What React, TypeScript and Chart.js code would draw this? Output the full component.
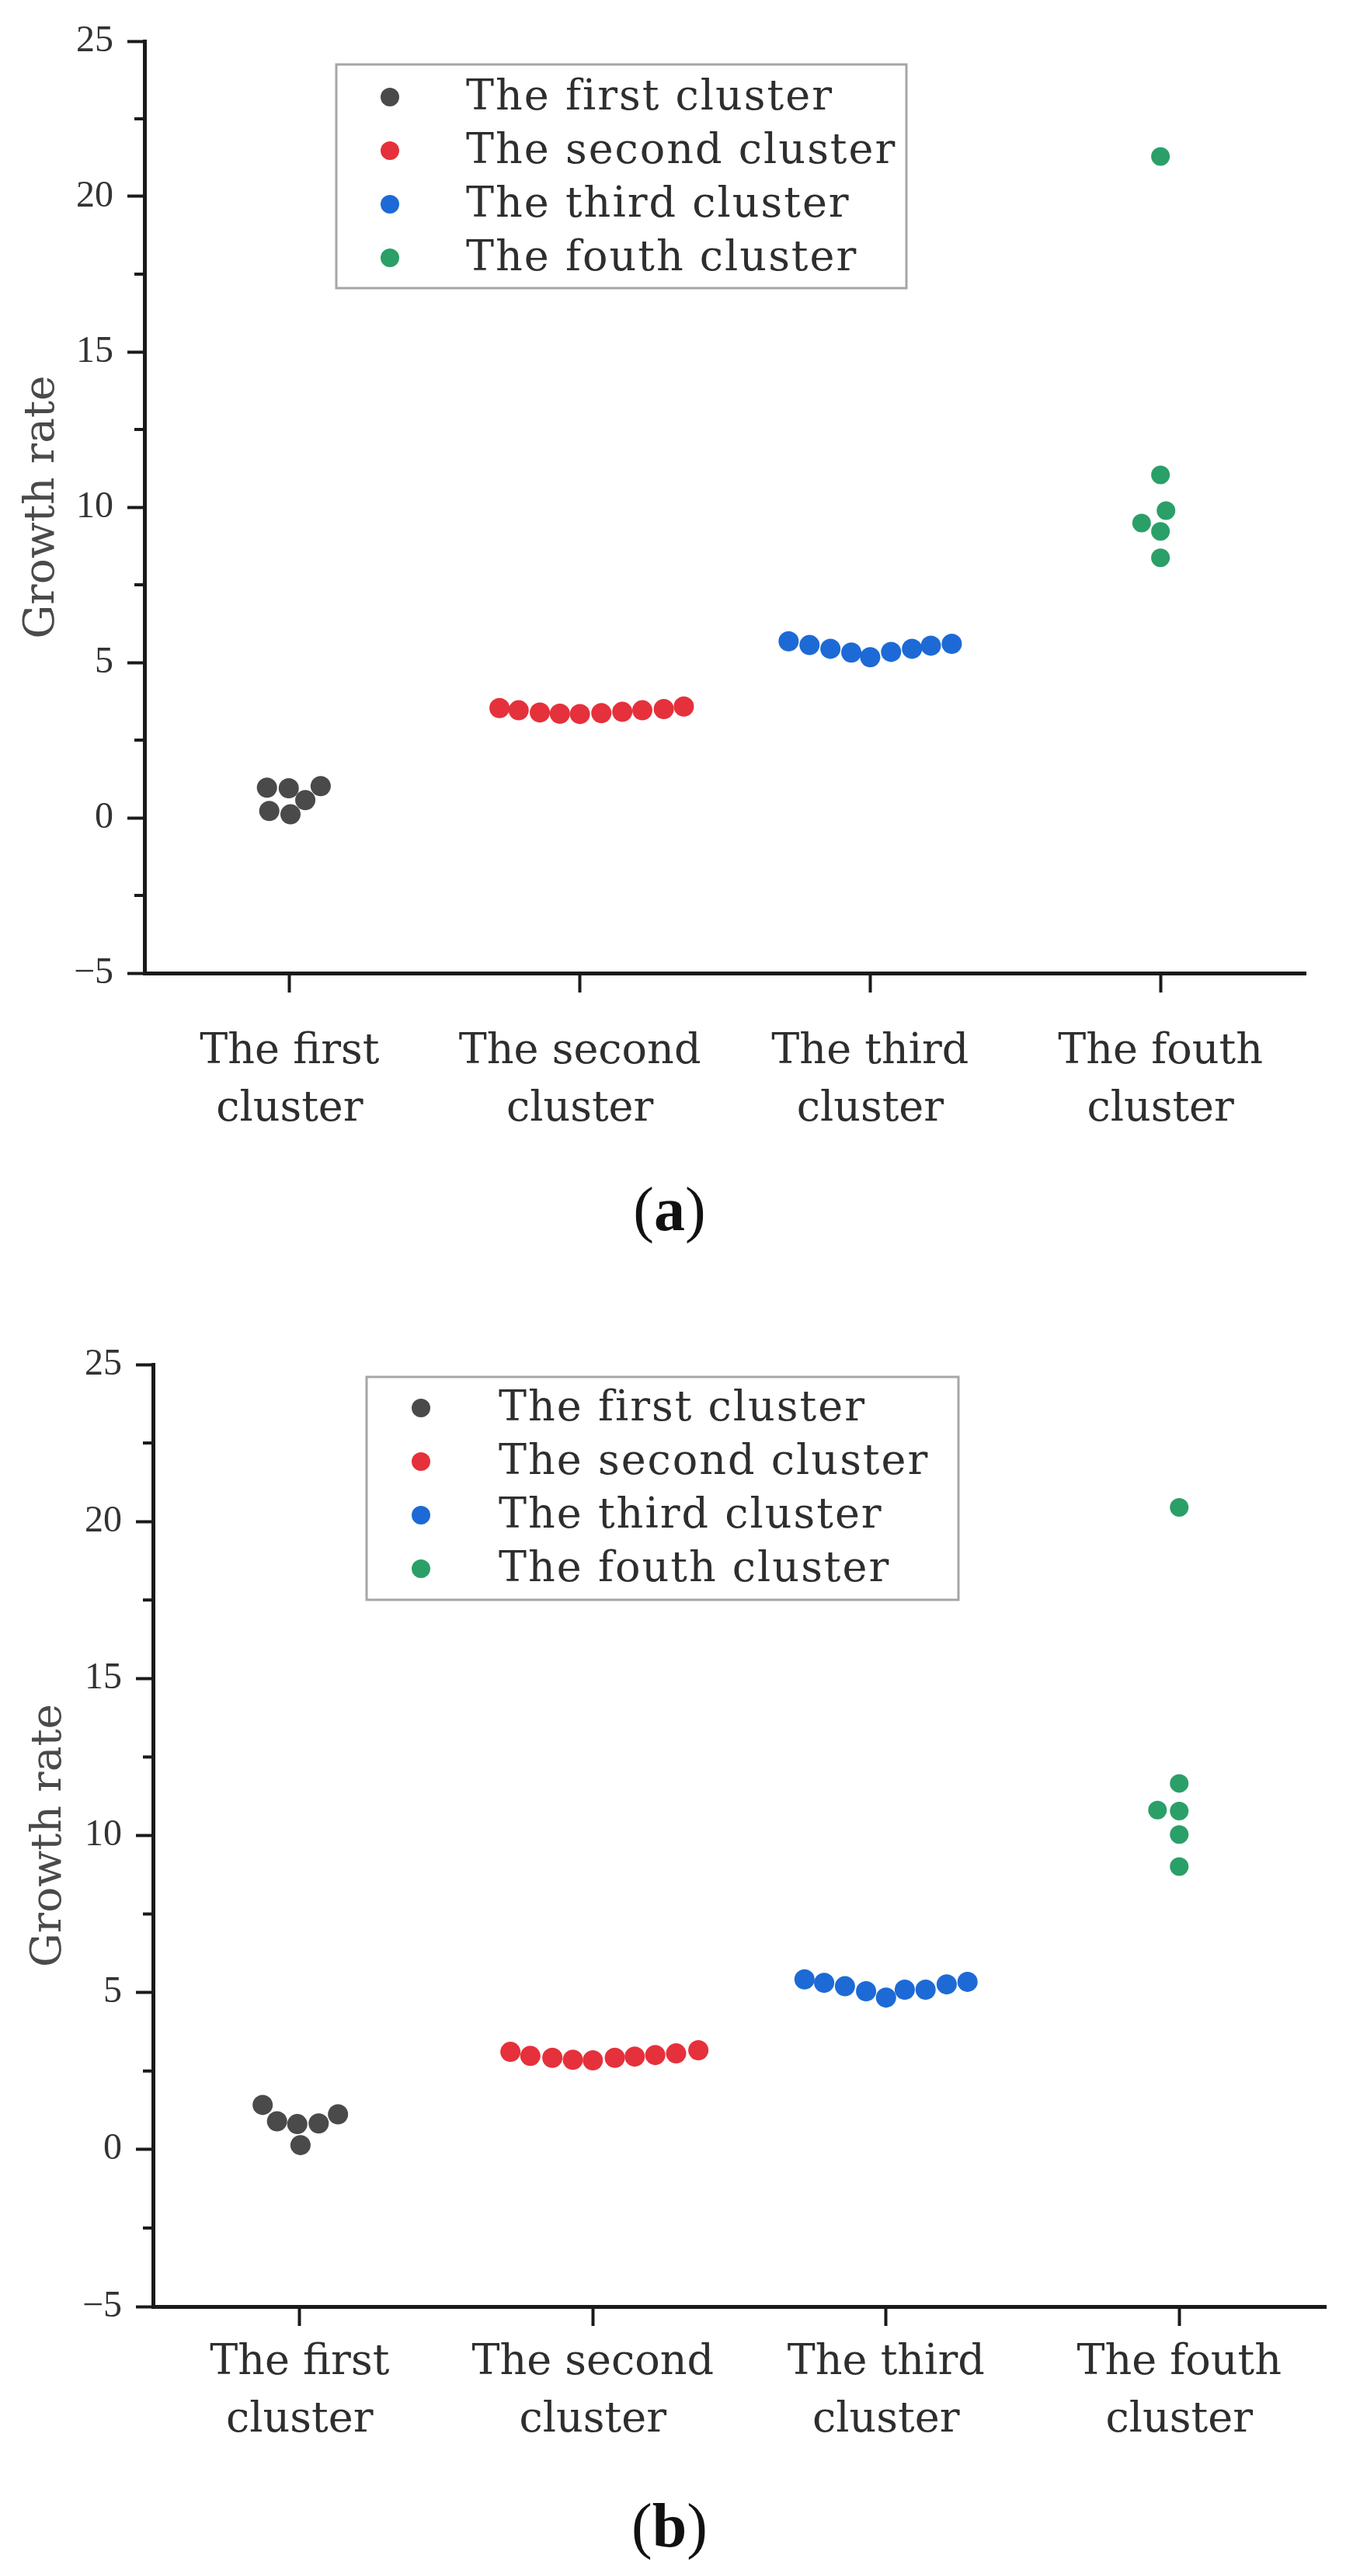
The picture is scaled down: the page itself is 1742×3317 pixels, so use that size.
import React, { useEffect, useRef } from 'react';
import { Chart, registerables } from 'chart.js';

Chart.register(...registerables);

// ---------- data ----------
const categoryLabels = [
  ['The first', 'cluster'],
  ['The second', 'cluster'],
  ['The third', 'cluster'],
  ['The fouth', 'cluster'],
];
const seriesNames = ['The first cluster', 'The second cluster', 'The third cluster', 'The fouth cluster'];
const yAxisTitle = 'Growth rate';
const yMin = -5;
const yMax = 25;
const yStep = 5;

// Panel (a): growth-rate values and horizontal swarm offsets (in category units)
const a1Values = [0.97, 0.95, 1.02, 0.57, 0.22, 0.11];
const a1Offsets = [-0.078, -0.003, 0.107, 0.054, -0.07, 0.003];
const a2Values = [3.53, 3.46, 3.39, 3.35, 3.34, 3.37, 3.41, 3.46, 3.5, 3.58];
const a2Offsets = [-0.277, -0.211, -0.138, -0.069, 0, 0.074, 0.146, 0.215, 0.289, 0.358];
const a3Values = [5.68, 5.56, 5.44, 5.32, 5.17, 5.34, 5.44, 5.54, 5.6];
const a3Offsets = [-0.281, -0.209, -0.137, -0.065, 0, 0.072, 0.144, 0.209, 0.281];
const a4Values = [21.29, 11.04, 9.89, 9.49, 9.22, 8.37];
const a4Offsets = [0, 0, 0.019, -0.065, 0, 0];

// Panel (b)
const b1Values = [1.42, 0.9, 0.81, 0.83, 1.12, 0.14];
const b1Offsets = [-0.126, -0.077, -0.008, 0.065, 0.131, 0.003];
const b2Values = [3.11, 2.98, 2.92, 2.86, 2.84, 2.92, 2.96, 3.01, 3.06, 3.16];
const b2Offsets = [-0.281, -0.213, -0.138, -0.068, 0, 0.075, 0.143, 0.213, 0.284, 0.36];
const b3Values = [5.42, 5.31, 5.2, 5.04, 4.84, 5.09, 5.09, 5.26, 5.34];
const b3Offsets = [-0.278, -0.211, -0.14, -0.068, 0, 0.064, 0.135, 0.207, 0.278];
const b4Values = [20.45, 11.66, 10.81, 10.78, 10.03, 9.01];
const b4Offsets = [0, 0, -0.074, 0, 0, 0];

// ---------- styles ----------
const seriesColors = ['#4a4a4a', '#e5313b', '#1d6ad6', '#2b9f68'];
const pointRadii = [13, 13, 13, 12];
const axisColor = '#1a1a1a';
const textColor = '#2e2e2e';
const W = 1742;

const layoutA = {
  top: 0, height: 1480,
  chartTop: 53, chartBottom: 1253, chartLeft: 186, chartRight: 1681,
  labelPad: 40, titlePad: 22,
  legend: { x: 433, y: 83, w: 734, h: 288, markerX: 502, textX: 600, rows: [125, 194, 263, 332] },
  captionTop: 1517, caption: 'a',
};
const layoutB = {
  top: 1700, height: 1470,
  chartTop: 57, chartBottom: 1270, chartLeft: 197, chartRight: 1707,
  labelPad: 11, titlePad: 31,
  legend: { x: 472, y: 73, w: 762, h: 287, markerX: 542, textX: 642, rows: [113, 182, 251, 320] },
  captionTop: 3212, caption: 'b',
};

function Panel({ L, values, offsets }: any) {
  const ref = useRef<HTMLCanvasElement>(null);
  useEffect(() => {
    const canvas = ref.current!;
    const datasets = seriesNames.map((name, s) => ({
      label: name,
      data: values[s].map((v: number, i: number) => ({ x: s + 1 + offsets[s][i], y: v })),
      backgroundColor: seriesColors[s],
      borderWidth: 0,
      pointRadius: pointRadii[s],
      pointHoverRadius: pointRadii[s],
    }));

    const decor = {
      id: 'decor',
      afterDraw(chart: any) {
        const ctx = chart.ctx;
        const ys = chart.scales.y;
        const left = chart.chartArea.left;
        ctx.save();
        // minor ticks
        ctx.strokeStyle = axisColor;
        ctx.lineWidth = 4;
        for (let v = yMin + yStep / 2; v < yMax; v += yStep) {
          const py = ys.getPixelForValue(v);
          ctx.beginPath();
          ctx.moveTo(left - 13, py);
          ctx.lineTo(left, py);
          ctx.stroke();
        }
        // legend
        const lg = L.legend;
        ctx.fillStyle = '#ffffff';
        ctx.fillRect(lg.x, lg.y, lg.w, lg.h);
        ctx.strokeStyle = '#a6a6a6';
        ctx.lineWidth = 3;
        ctx.strokeRect(lg.x, lg.y, lg.w, lg.h);
        ctx.font = '54px "DejaVu Serif"';
        ctx.textBaseline = 'middle';
        ctx.textAlign = 'left';
        try { (ctx as any).letterSpacing = '2px'; } catch (e) {}
        chart.data.datasets.forEach((ds: any, i: number) => {
          const y = lg.rows[i];
          ctx.fillStyle = ds.backgroundColor;
          ctx.beginPath();
          ctx.arc(lg.markerX, y, 12, 0, Math.PI * 2);
          ctx.fill();
          ctx.fillStyle = textColor;
          ctx.fillText(ds.label, lg.textX, y + 2);
        });
        try { (ctx as any).letterSpacing = '0px'; } catch (e) {}
        ctx.restore();
      },
    };

    const chart = new Chart(canvas, {
      type: 'scatter',
      data: { datasets },
      options: {
        animation: false,
        responsive: false,
        maintainAspectRatio: false,
        events: [],
        layout: { padding: { top: L.chartTop, right: W - L.chartRight, left: 0, bottom: 0 } },
        plugins: { legend: { display: false }, tooltip: { enabled: false } },
        scales: {
          x: {
            type: 'linear',
            min: 0.5,
            max: 4.5,
            afterBuildTicks: (s: any) => {
              s.ticks = categoryLabels.map((_, i) => ({ value: i + 1 }));
            },
            afterFit: (s: any) => {
              s.height = L.height - L.chartBottom;
            },
            ticks: {
              autoSkip: false,
              maxRotation: 0,
              minRotation: 0,
              padding: L.labelPad,
              color: textColor,
              font: { family: '"DejaVu Serif"', size: 54, lineHeight: 1.37 },
              callback: (v: any) => categoryLabels[Math.round(v) - 1] ?? '',
            },
            grid: { drawOnChartArea: false, drawTicks: true, tickLength: 25, tickWidth: 4, tickColor: axisColor },
            border: { display: true, color: axisColor, width: 5 },
          },
          y: {
            min: yMin,
            max: yMax,
            afterFit: (s: any) => {
              s.width = L.chartLeft;
            },
            ticks: {
              stepSize: yStep,
              padding: 18,
              color: '#333333',
              font: { family: '"Liberation Serif"', size: 48 },
              callback: (v: any) => (v < 0 ? '\u2212' + Math.abs(v) : String(v)),
            },
            grid: { drawOnChartArea: false, drawTicks: true, tickLength: 22, tickWidth: 4, tickColor: axisColor },
            border: { display: true, color: axisColor, width: 5 },
            title: {
              display: true,
              text: yAxisTitle,
              color: '#4a4a4a',
              font: { family: '"DejaVu Serif"', size: 55 },
              padding: { top: L.titlePad, bottom: 0 },
            },
          },
        },
      },
      plugins: [decor],
    } as any);
    return () => chart.destroy();
  }, []);

  return (
    <>
      <canvas
        ref={ref}
        width={W}
        height={L.height}
        style={{ position: 'absolute', left: 0, top: L.top, width: W, height: L.height }}
      />
      <div
        style={{
          position: 'absolute',
          left: 0,
          width: 1724,
          top: L.captionTop,
          textAlign: 'center',
          fontFamily: '"Liberation Serif"',
          fontSize: 80,
          lineHeight: '80px',
          color: '#111',
        }}
      >
        (<b>{L.caption}</b>)
      </div>
    </>
  );
}

export default function App() {
  return (
    <div style={{ position: 'absolute', left: 0, top: 0, width: W, height: 3317, background: '#fff' }}>
      <Panel
        L={layoutA}
        values={[a1Values, a2Values, a3Values, a4Values]}
        offsets={[a1Offsets, a2Offsets, a3Offsets, a4Offsets]}
      />
      <Panel
        L={layoutB}
        values={[b1Values, b2Values, b3Values, b4Values]}
        offsets={[b1Offsets, b2Offsets, b3Offsets, b4Offsets]}
      />
    </div>
  );
}
